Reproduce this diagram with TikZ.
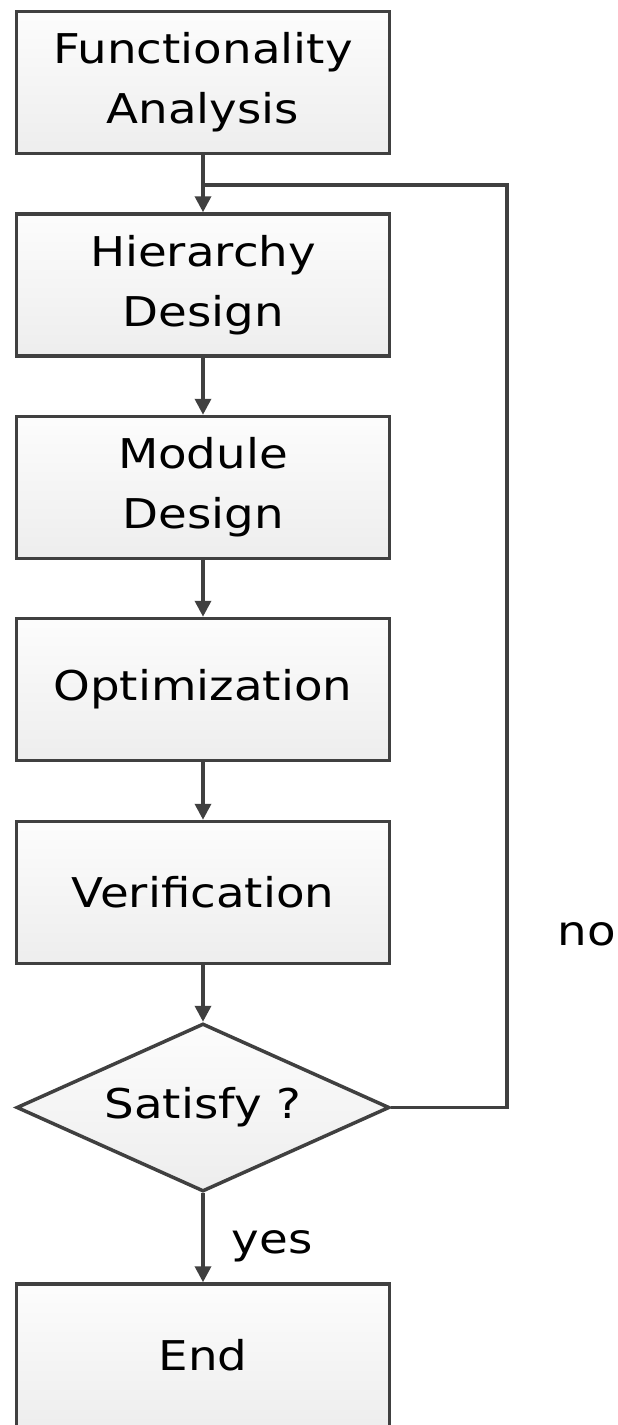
\documentclass[tikz,border=0pt]{standalone}
\usepackage{fontspec}
\setmainfont{DejaVu Sans}[FakeStretch=1.14]
\usetikzlibrary{arrows.meta,shapes.geometric,calc}
\definecolor{edge}{HTML}{404040}
\begin{document}
\begin{tikzpicture}[x=1pt,y=-1pt,
  every node/.style={font=\fontsize{41}{60}\selectfont, text=black},
  stepbox/.style={draw=edge, line width=3.5pt, top color=black!1, bottom color=black!7,
    minimum width=373pt, minimum height=142pt, inner sep=0pt, align=center},
  testbox/.style={diamond, draw=edge, line width=3.5pt, top color=black!1, bottom color=black!7,
    minimum width=373pt, minimum height=168pt, aspect=2.2, inner sep=0pt},
  flow/.style={draw=edge, line width=3.5pt, -{Triangle[width=16pt,length=16pt]}},
  wire/.style={draw=edge, line width=3.5pt}]
\useasboundingbox (0,0) rectangle (618,1425);
\fill[white] (0,0) rectangle (618,1425);

\node[stepbox] (fa)  at (203,82.5)  {Functionality\\Analysis};
\node[stepbox] (hd)  at (203,285)   {Hierarchy\\Design};
\node[stepbox] (md)  at (203,487.5) {Module\\Design};
\node[stepbox] (opt) at (203,689.5) {Optimization};
\node[stepbox] (ver) at (203,892.5) {Verification};
\node[testbox] (sat) at (203,1107.5) {Satisfy ?};
\node[stepbox, minimum height=148pt] (end) at (203,1358)  {\raisebox{7pt}{End}};

\coordinate (join) at (203,185);
\coordinate (back) at (507,185);

\draw[flow] (fa.south) -- (hd.north);
\draw[flow] (hd.south) -- (md.north);
\draw[flow] (md.south) -- (opt.north);
\draw[flow] (opt.south) -- (ver.north);
\draw[flow] (ver.south) -- (sat.north);
\draw[flow] (sat.south) -- (end.north);
\draw[wire] (sat.east) -- (sat.east -| back) -- (back) -- (join);

\node (no)  at (587,934) {no};
\node (yes) at (272,1246) {yes};
\end{tikzpicture}
\end{document}
